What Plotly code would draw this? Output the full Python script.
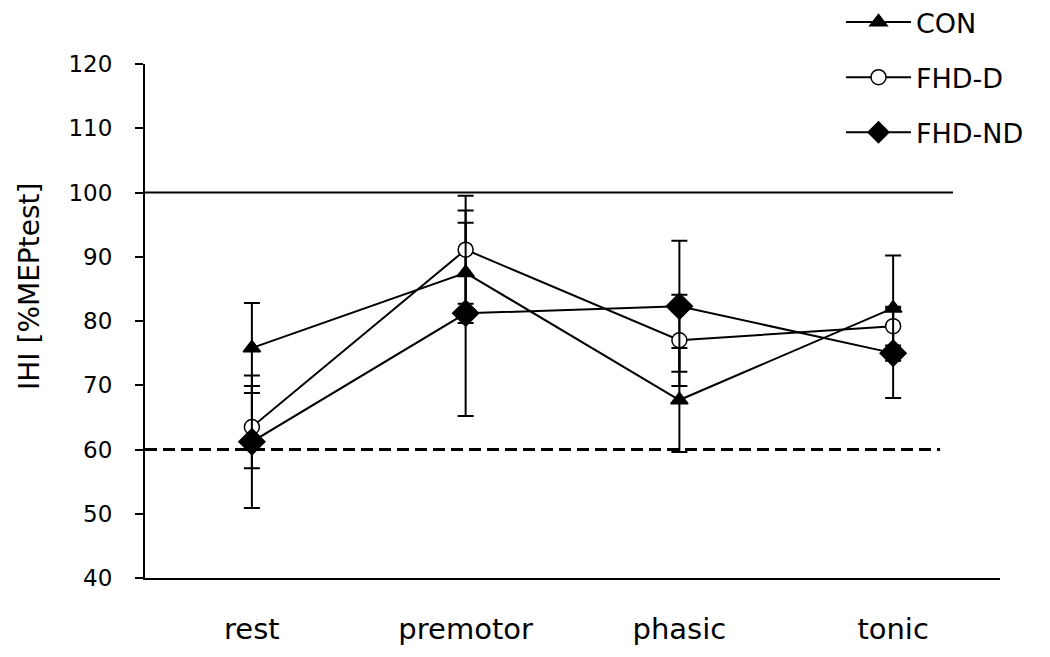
import plotly.graph_objects as go

# | data section |
phases = ["rest", "premotor", "phasic", "tonic"]

con_mean = [75.8, 87.5, 67.7, 82.0]
con_sd = [7.0, 7.8, 8.1, 8.2]

fhd_d_mean = [63.5, 91.1, 77.0, 79.2]
fhd_d_sd = [6.4, 8.4, 7.1, 3.0]

fhd_nd_mean = [61.2, 81.2, 82.3, 75.0]
fhd_nd_sd = [10.3, 16.0, 10.2, 7.0]

y_ticks = [40, 50, 60, 70, 80, 90, 100, 110, 120]
ref_full = 100  # no inhibition
ref_base = 60  # dashed reference

FONT = "DejaVu Sans"

# page offset of the plot div inside the body
OFF_X, OFF_Y = 7, 8
L, T = 144 - OFF_X, 64 - OFF_Y
PW, PH = 855, 514

# | graph section |
fig = go.Figure()


def add_series(name, mean, sd, symbol, size, fill, group):
    fig.add_trace(
        go.Scatter(
            x=phases,
            y=mean,
            name=name,
            mode="lines+markers",
            legendgroup=group,
            line={"color": "black", "width": 2},
            marker={
                "symbol": symbol,
                "size": size,
                "color": fill,
                "line": {"color": "black", "width": 1.5},
            },
            error_y={
                "type": "data",
                "array": sd,
                "visible": True,
                "color": "black",
                "thickness": 2,
                "width": 8,
            },
        )
    )


add_series("CON", con_mean, con_sd, "triangle-up", 15, "black", "a")
add_series("FHD-D", fhd_d_mean, fhd_d_sd, "circle", 15, "white", "b")
add_series("FHD-ND", fhd_nd_mean, fhd_nd_sd, "diamond", 20, "black", "c")

# reference lines
fig.add_shape(
    type="line", xref="x", yref="y", x0=-0.5, x1=3.28, y0=ref_full, y1=ref_full,
    line={"color": "black", "width": 2}, layer="below",
)
fig.add_shape(
    type="line", xref="x", yref="y", x0=-0.5, x1=3.22, y0=ref_base, y1=ref_base,
    line={"color": "black", "width": 3, "dash": "12px,6px"}, layer="below",
)

# y axis title placed a bit above centre like the original
fig.add_annotation(
    text="IHI [%MEPtest]",
    xref="paper", yref="paper",
    x=(28 - OFF_X - L) / PW, y=(T + PH - (287 - OFF_Y)) / PH,
    xanchor="center", yanchor="middle",
    textangle=-90, showarrow=False,
    font={"family": FONT, "size": 28, "color": "black"},
)

fig.update_xaxes(
    type="category",
    range=[-0.5, 3.5],
    showline=True, linecolor="black", linewidth=2,
    ticks="", showgrid=False, zeroline=False,
    tickfont={"family": FONT, "size": 29, "color": "black"},
    ticklabelstandoff=24,
)
fig.update_yaxes(
    range=[40, 120],
    tickvals=y_ticks,
    showline=True, linecolor="black", linewidth=2,
    ticks="outside", ticklen=8, tickwidth=2, tickcolor="black",
    showgrid=False, zeroline=False,
    tickfont={"family": FONT, "size": 23, "color": "black"},
    ticklabelstandoff=18,
)

fig.update_layout(
    width=1050,
    height=657,
    paper_bgcolor="white",
    plot_bgcolor="white",
    margin={"l": L, "r": 1050 - L - PW, "t": T, "b": 657 - T - PH,
            "autoexpand": False},
    showlegend=True,
    legend={
        "x": (833 - OFF_X - L) / PW + OFF_X / PW,
        "y": 1 + (T + 10) / PH,
        "xanchor": "left",
        "yanchor": "top",
        "font": {"family": FONT, "size": 27, "color": "black"},
        "itemwidth": 65,
        "tracegroupgap": 17,
        "bgcolor": "rgba(0,0,0,0)",
    },
)

fig.write_html("out.html")
